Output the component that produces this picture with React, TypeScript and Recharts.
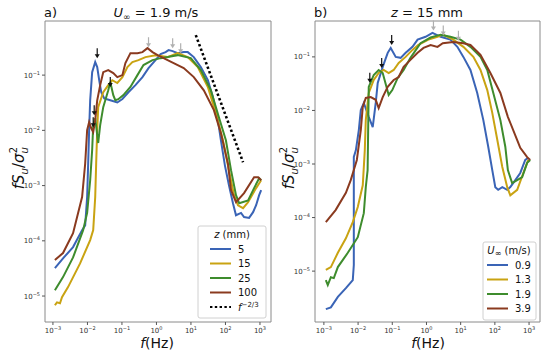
import React from "react";
import { ComposedChart, Line, XAxis, YAxis, ReferenceArea, ReferenceDot } from "recharts";

type Pt = { f: number; v: number };
const p = (f: number, v: number): Pt => ({ f, v });

const COLORS = { blue: "#3a64b6", gold: "#c9a312", green: "#3e8c2d", brown: "#8a3a1f" };
const FONT = "DejaVu Sans";

const X_TICKS = [1e-3, 1e-2, 1e-1, 1, 10, 100, 1000];
const Y_TICKS = [1e-5, 1e-4, 1e-3, 1e-2, 1e-1];

// ---- panel a) U = 1.9 m/s, several heights z
const blueA: Pt[] = [
  p(0.00114, 3.2e-5), p(0.00196, 4.8e-5), p(0.00383, 7.7e-5), p(0.007, 1.56e-4), p(0.0086, 1.9e-4),
  p(0.0098, 6.2e-4), p(0.0105, 0.0025), p(0.0112, 0.0101), p(0.012, 0.035), p(0.0137, 0.113),
  p(0.0168, 0.172), p(0.0192, 0.14), p(0.0219, 0.081), p(0.0251, 0.049), p(0.0307, 0.038),
  p(0.0459, 0.035), p(0.0734, 0.032), p(0.103, 0.037), p(0.154, 0.049), p(0.246, 0.066),
  p(0.393, 0.092), p(0.589, 0.134), p(0.94, 0.187), p(1.32, 0.24), p(1.84, 0.261), p(2.25, 0.284),
  p(2.95, 0.272), p(4.12, 0.25), p(6.17, 0.261), p(8.07, 0.261), p(12.1, 0.212), p(19.3, 0.14),
  p(30.9, 0.081), p(43.2, 0.04), p(60.4, 0.0153), p(73.9, 0.0066), p(96.6, 0.0023), p(126, 0.00102),
  p(165, 4.8e-4), p(202, 2.9e-4), p(283, 3.2e-4), p(346, 2.7e-4), p(484, 2.6e-4), p(632, 3.3e-4),
  p(774, 4.4e-4), p(948, 6.7e-4), p(1083, 8.3e-4),
];
const goldA: Pt[] = [
  p(0.00114, 6.8e-6), p(0.00131, 7.7e-6), p(0.0016, 7.4e-6), p(0.00183, 9.5e-6), p(0.00274, 1.45e-5),
  p(0.00612, 3.9e-5), p(0.012, 1.03e-4), p(0.0147, 1.56e-4), p(0.0168, 6.2e-4), p(0.0179, 0.0025),
  p(0.0192, 0.0101), p(0.0205, 0.0263), p(0.0287, 0.049), p(0.0401, 0.066), p(0.0525, 0.081),
  p(0.0734, 0.072), p(0.103, 0.092), p(0.144, 0.14), p(0.201, 0.172), p(0.301, 0.187), p(0.481, 0.212),
  p(0.94, 0.23), p(2.11, 0.212), p(4.12, 0.25), p(8.07, 0.212), p(15.8, 0.14), p(30.9, 0.061),
  p(52.8, 0.0205), p(84.5, 0.0066), p(126, 0.0019), p(177, 6.7e-4), p(231, 4.4e-4), p(324, 3.9e-4),
  p(453, 5.0e-4), p(774, 9.0e-4), p(1083, 0.00125),
];
const greenA: Pt[] = [
  p(0.00114, 1.27e-5), p(0.00196, 2.2e-5), p(0.00383, 5.0e-5), p(0.0075, 1.56e-4), p(0.0098, 3.2e-4),
  p(0.012, 0.00125), p(0.0137, 0.0044), p(0.0147, 0.0124), p(0.0168, 0.0166), p(0.0192, 0.0082),
  p(0.0205, 0.0059), p(0.0234, 0.0124), p(0.0287, 0.0263), p(0.0401, 0.053), p(0.0459, 0.075),
  p(0.0561, 0.0434), p(0.0642, 0.0352), p(0.0785, 0.0367), p(0.11, 0.0434), p(0.176, 0.061),
  p(0.281, 0.1), p(0.421, 0.152), p(0.769, 0.187), p(1.32, 0.203), p(2.11, 0.212), p(4.12, 0.23),
  p(9.87, 0.203), p(19.3, 0.123), p(37.8, 0.053), p(64.6, 0.0173), p(103, 0.0066), p(145, 0.0019),
  p(202, 6.7e-4), p(250, 4.8e-4), p(453, 5.4e-4), p(676, 9.0e-4), p(948, 0.00136), p(1083, 0.00125),
];
const brownA: Pt[] = [
  p(0.00114, 4.5e-5), p(0.00196, 6.0e-5), p(0.00383, 1.37e-4), p(0.007, 6.2e-4), p(0.0086, 0.0025),
  p(0.0098, 0.0101), p(0.0112, 0.0141), p(0.0128, 0.011), p(0.0147, 0.0093), p(0.0168, 0.0153),
  p(0.0192, 0.035), p(0.0234, 0.066), p(0.0287, 0.113), p(0.0401, 0.123), p(0.0561, 0.109),
  p(0.0734, 0.092), p(0.103, 0.1), p(0.126, 0.165), p(0.176, 0.25), p(0.281, 0.25), p(0.393, 0.261),
  p(0.55, 0.308), p(0.769, 0.261), p(1.08, 0.23), p(1.61, 0.203), p(3.15, 0.165), p(6.17, 0.134),
  p(12.1, 0.092), p(23.6, 0.053), p(46.2, 0.0232), p(73.9, 0.0089), p(118, 0.0025), p(145, 8.3e-4),
  p(202, 5.0e-4), p(346, 7.3e-4), p(676, 0.00142), p(885, 0.00142), p(1083, 0.00125),
];
const slopeA: Pt[] = [p(13.8, 0.53), p(324, 0.00265)];
const blackArrowsA: Pt[] = [p(0.0192, 0.203), p(0.0459, 0.061), p(0.0157, 0.0188), p(0.0147, 0.0114)];
const grayArrowsA: Pt[] = [p(0.589, 0.32), p(2.95, 0.308), p(5.04, 0.25)];

// ---- panel b) z = 15 mm, several free-stream speeds
const blueB: Pt[] = [
  p(0.00114, 1.95e-6), p(0.0016, 2.1e-6), p(0.00256, 3.3e-6), p(0.0044, 4.8e-6), p(0.007, 6.8e-6),
  p(0.0075, 1.3e-5), p(0.0075, 0.00135), p(0.0086, 0.0018), p(0.0105, 0.0043), p(0.012, 0.0102),
  p(0.0147, 0.0138), p(0.0205, 0.0076), p(0.0268, 0.0049), p(0.0328, 0.0138), p(0.0375, 0.0327),
  p(0.0525, 0.065), p(0.0735, 0.119), p(0.09, 0.147), p(0.126, 0.1), p(0.176, 0.096), p(0.246, 0.119),
  p(0.39, 0.154), p(0.55, 0.21), p(0.94, 0.237), p(1.5, 0.28), p(2.6, 0.237), p(5.0, 0.21),
  p(8.0, 0.154), p(12, 0.1), p(19.3, 0.057), p(30.5, 0.0212), p(46, 0.0066), p(64, 0.0021),
  p(84, 7.7e-4), p(103, 3.7e-4), p(125, 3.3e-4), p(165, 3.7e-4), p(230, 3.3e-4), p(283, 3.7e-4),
  p(396, 5.0e-4), p(553, 6.8e-4), p(774, 0.00119), p(946, 0.0013),
];
const goldB: Pt[] = [
  p(0.00114, 1.05e-5), p(0.0016, 1.19e-5), p(0.00256, 2.2e-5), p(0.0044, 4.1e-5), p(0.007, 8.2e-5),
  p(0.0098, 1.57e-4), p(0.0137, 4.0e-4), p(0.0157, 0.0018), p(0.0168, 0.0066), p(0.0205, 0.0212),
  p(0.0287, 0.037), p(0.04, 0.05), p(0.056, 0.057), p(0.0785, 0.05), p(0.11, 0.057), p(0.154, 0.077),
  p(0.246, 0.1), p(0.39, 0.135), p(0.58, 0.167), p(1.14, 0.21), p(2.1, 0.237), p(3.0, 0.26),
  p(6.1, 0.21), p(12, 0.154), p(23.5, 0.1), p(38, 0.057), p(60, 0.024), p(84, 0.009), p(118, 0.0028),
  p(165, 8.8e-4), p(230, 3.7e-4), p(283, 2.6e-4), p(450, 3.3e-4), p(680, 6.8e-4), p(946, 0.00119),
];
const greenB: Pt[] = [
  p(0.00114, 6.8e-6), p(0.0013, 5.5e-6), p(0.0016, 7.7e-6), p(0.00195, 7.4e-6), p(0.00256, 1.19e-5),
  p(0.005, 2.2e-5), p(0.0098, 4.3e-5), p(0.0147, 1.21e-4), p(0.0168, 3.7e-4), p(0.019, 7.7e-4),
  p(0.0205, 0.0275), p(0.0287, 0.046), p(0.04, 0.057), p(0.0525, 0.05), p(0.0785, 0.0195),
  p(0.1, 0.024), p(0.143, 0.04), p(0.215, 0.057), p(0.34, 0.096), p(0.67, 0.18), p(1.32, 0.23),
  p(2.6, 0.26), p(5.0, 0.237), p(9.9, 0.21), p(19.3, 0.154), p(38, 0.1), p(60, 0.057), p(90, 0.0212),
  p(145, 0.0066), p(202, 0.0021), p(240, 7.7e-4), p(320, 4.4e-4), p(450, 5.0e-4), p(630, 5.7e-4),
  p(880, 0.00105), p(1080, 0.00119),
];
const brownB: Pt[] = [
  p(0.00114, 8.2e-5), p(0.0022, 1.38e-4), p(0.0044, 2.9e-4), p(0.0061, 5.0e-4), p(0.0075, 7.7e-4),
  p(0.0092, 0.00119), p(0.012, 0.0043), p(0.0137, 0.0116), p(0.0168, 0.0171), p(0.0234, 0.0178),
  p(0.0328, 0.0158), p(0.04, 0.0111), p(0.0525, 0.0178), p(0.0735, 0.0275), p(0.11, 0.037),
  p(0.154, 0.042), p(0.215, 0.065), p(0.34, 0.088), p(0.55, 0.119), p(0.82, 0.147), p(1.32, 0.167),
  p(2.1, 0.154), p(3.0, 0.18), p(6.1, 0.19), p(12, 0.18), p(19.3, 0.167), p(38, 0.109), p(74, 0.05),
  p(145, 0.0212), p(240, 0.0076), p(450, 0.0028), p(553, 0.002), p(880, 0.00134), p(1080, 0.00119),
];
const blackArrowsB: Pt[] = [p(0.096, 0.167), p(0.049, 0.062), p(0.022, 0.033)];
const grayArrowsB: Pt[] = [p(1.6, 0.31), p(3.1, 0.25), p(8.6, 0.2)];

const seriesA = [
  { name: "5", data: blueA, color: COLORS.blue },
  { name: "15", data: goldA, color: COLORS.gold },
  { name: "25", data: greenA, color: COLORS.green },
  { name: "100", data: brownA, color: COLORS.brown },
];
const seriesB = [
  { name: "0.9", data: blueB, color: COLORS.blue },
  { name: "1.3", data: goldB, color: COLORS.gold },
  { name: "1.9", data: greenB, color: COLORS.green },
  { name: "3.9", data: brownB, color: COLORS.brown },
];

const powLabel = (v: number) => {
  const e = Math.round(Math.log10(v));
  return e < 0 ? `\u2212${-e}` : `${e}`;
};

const XTick = (props: any) => {
  const { x, y, payload } = props;
  return (
    <text x={x} y={y + 6} textAnchor="middle" fontSize={7} fill="#333" fontFamily={FONT}>
      <tspan>10</tspan>
      <tspan dy={-3} fontSize={5}>{powLabel(payload.value)}</tspan>
    </text>
  );
};

const YTick = (props: any) => {
  const { x, y, payload } = props;
  return (
    <text x={x} y={y + 2.5} textAnchor="end" fontSize={7} fill="#333" fontFamily={FONT}>
      <tspan>10</tspan>
      <tspan dy={-3} fontSize={5}>{powLabel(payload.value)}</tspan>
    </text>
  );
};

const Arrow = ({ cx, cy, color }: any) => (
  <g>
    <line x1={cx} y1={cy - 10} x2={cx} y2={cy - 3} stroke={color} strokeWidth={1.2} />
    <path d={`M${cx - 2.5},${cy - 4} L${cx + 2.5},${cy - 4} L${cx},${cy} Z`} fill={color} />
  </g>
);

function Panel(props: any) {
  const { series, xDomain, yDomain, margin, yWidth, dotted, blackArrows, grayArrows } = props;
  return (
    <ComposedChart width={275} height={355} margin={margin}>
      <XAxis dataKey="f" type="number" scale="log" domain={xDomain} allowDataOverflow ticks={X_TICKS}
        interval={0} tick={<XTick />} tickSize={3} tickLine={{ stroke: "#555" }} axisLine={false} height={20} />
      <YAxis dataKey="v" type="number" scale="log" domain={yDomain} allowDataOverflow ticks={Y_TICKS}
        interval={0} tick={<YTick />} tickSize={3} tickLine={{ stroke: "#555" }} axisLine={false} width={yWidth} />
      <ReferenceArea x1={xDomain[0]} x2={xDomain[1]} y1={yDomain[0]} y2={yDomain[1]}
        fill="none" stroke="#8a8a8a" strokeWidth={1} ifOverflow="visible" />
      {series.map((s: any) => (
        <Line key={s.name} data={s.data} dataKey="v" type="linear" stroke={s.color} strokeWidth={2}
          dot={false} isAnimationActive={false} />
      ))}
      {dotted && (
        <Line data={dotted} dataKey="v" type="linear" stroke="#000" strokeWidth={2.6}
          strokeDasharray="2.4 2.4" dot={false} isAnimationActive={false} />
      )}
      {grayArrows.map((a: Pt, i: number) => (
        <ReferenceDot key={`g${i}`} x={a.f} y={a.v} ifOverflow="visible"
          shape={(sp: any) => <Arrow cx={sp.cx} cy={sp.cy} color="#b0b0b0" />} />
      ))}
      {blackArrows.map((a: Pt, i: number) => (
        <ReferenceDot key={`b${i}`} x={a.f} y={a.v} ifOverflow="visible"
          shape={(sp: any) => <Arrow cx={sp.cx} cy={sp.cy} color="#111" />} />
      ))}
    </ComposedChart>
  );
}

function YLabel({ x }: { x: number }) {
  return (
    <text transform={`translate(${x},168) rotate(-90)`} textAnchor="middle" fontSize={15} fontFamily={FONT} fill="#111">
      <tspan fontStyle="italic">fS</tspan>
      <tspan fontStyle="italic" fontSize={10} dy={4}>u</tspan>
      <tspan dy={-4}>/</tspan>
      <tspan fontStyle="italic">σ</tspan>
      <tspan fontStyle="italic" fontSize={10} dy={4}>u</tspan>
      <tspan fontSize={10} dx={-6} dy={-11}>2</tspan>
    </text>
  );
}

function XLabel({ x }: { x: number }) {
  return (
    <text x={x} y={348} textAnchor="middle" fontSize={14} fontFamily={FONT} fill="#111">
      <tspan fontStyle="italic">f</tspan>(Hz)
    </text>
  );
}

function LegendBox({ x, y, w, h, title, rows, lineX, rowY }: any) {
  return (
    <g fontFamily={FONT} fontSize={10} fill="#111">
      <rect x={x} y={y} width={w} height={h} rx={2} fill="#fff" fillOpacity={0.85} stroke="#d0d0d0" />
      {title}
      {rows.map((r: any, i: number) => (
        <g key={i}>
          <line x1={lineX} x2={lineX + 21} y1={rowY + i * 14.5} y2={rowY + i * 14.5}
            stroke={r.color} strokeWidth={2} strokeDasharray={r.dash} />
          <text x={lineX + 28} y={rowY + i * 14.5 + 3.5}>{r.label}</text>
        </g>
      ))}
    </g>
  );
}

export default function App() {
  const rowsA = [
    ...seriesA.map((s) => ({ color: s.color, label: s.name })),
    { color: "#000", dash: "2.4 2.4", label: <><tspan fontStyle="italic">f</tspan><tspan dy={-4} fontSize={7}>−2/3</tspan></> },
  ];
  const rowsB = seriesB.map((s) => ({ color: s.color, label: s.name }));
  return (
    <div style={{ position: "absolute", left: 0, top: 0, width: 550, height: 355, background: "#fff", overflow: "hidden" }}>
      <div style={{ position: "absolute", left: 0, top: 0 }}>
        <Panel series={seriesA} xDomain={[10 ** -3.23, 10 ** 3.32]} yDomain={[10 ** -5.47, 10 ** -0.02]}
          margin={{ top: 21, right: 4, bottom: 13, left: 5 }} yWidth={40}
          dotted={slopeA} blackArrows={blackArrowsA} grayArrows={grayArrowsA} />
      </div>
      <div style={{ position: "absolute", left: 275, top: 0 }}>
        <Panel series={seriesB} xDomain={[10 ** -3.26, 10 ** 3.32]} yDomain={[10 ** -5.95, 10 ** -0.33]}
          margin={{ top: 21, right: 10, bottom: 13, left: 5 }} yWidth={35}
          blackArrows={blackArrowsB} grayArrows={grayArrowsB} />
      </div>
      <svg width={550} height={355} style={{ position: "absolute", left: 0, top: 0, pointerEvents: "none" }}>
        <g fontFamily={FONT} fontSize={13} fill="#111">
          <text x={44} y={17}>a)</text>
          <text x={156} y={17} textAnchor="middle">
            <tspan fontStyle="italic">U</tspan><tspan fontSize={9} dy={3}>∞</tspan>
            <tspan dy={-3}> = 1.9 m/s</tspan>
          </text>
          <text x={314} y={17}>b)</text>
          <text x={427} y={17} textAnchor="middle">
            <tspan fontStyle="italic">z</tspan> = 15 mm
          </text>
        </g>
        <YLabel x={24} />
        <YLabel x={294} />
        <XLabel x={157} />
        <XLabel x={428} />
        <LegendBox x={198} y={226} w={68} h={92} lineX={210} rowY={249}
          title={<text x={232} y={238} textAnchor="middle"><tspan fontStyle="italic">z</tspan> (mm)</text>}
          rows={rowsA} />
        <LegendBox x={483} y={242} w={53} h={78} lineX={487} rowY={265}
          title={<text x={509} y={254} textAnchor="middle"><tspan fontStyle="italic">U</tspan><tspan fontSize={8} dy={2}>∞</tspan><tspan dy={-2}> (m/s)</tspan></text>}
          rows={rowsB} />
      </svg>
    </div>
  );
}
